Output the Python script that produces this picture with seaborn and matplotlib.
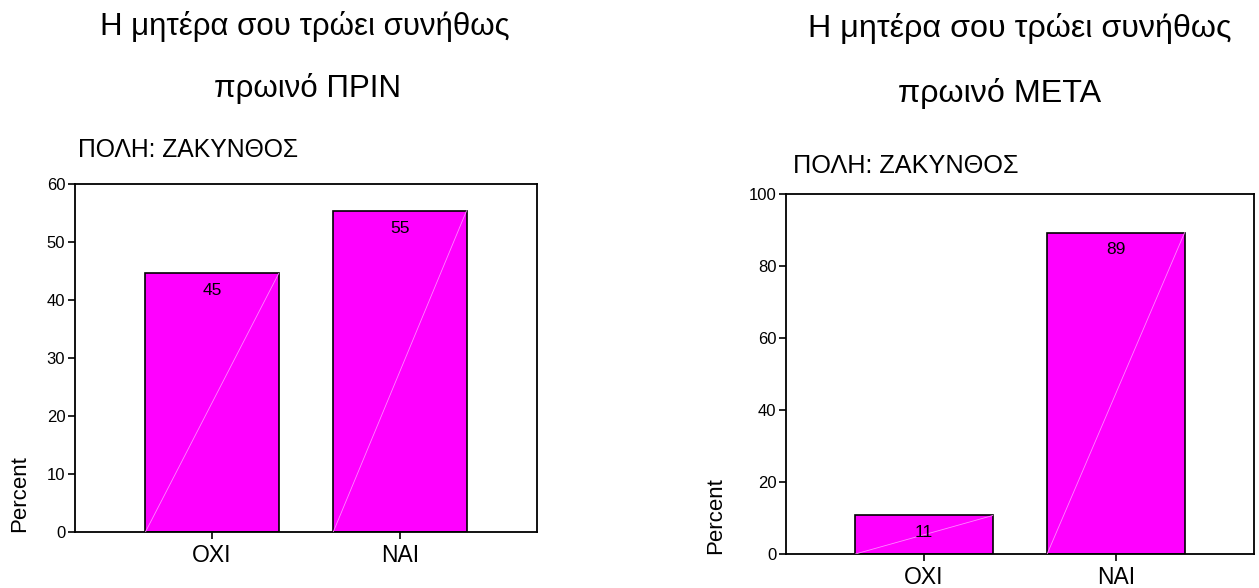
import matplotlib
matplotlib.use("Agg")
import matplotlib.pyplot as plt
import seaborn as sns
import numpy as np

categories = ["ΟΧΙ", "ΝΑΙ"]
values_before = [44.6, 55.4]
values_after = [10.7, 89.3]
title_line1 = "Η μητέρα σου τρώει συνήθως"
title_before = "πρωινό ΠΡΙΝ"
title_after = "πρωινό ΜΕΤΑ"
subtitle = "ΠΟΛΗ: ΖΑΚΥΝΘΟΣ"
yticks_before = [0, 10, 20, 30, 40, 50, 60]
yticks_after = [0, 20, 40, 60, 80, 100]

sns.set_theme(style="white")
plt.rcParams['font.family'] = ['Liberation Sans', 'DejaVu Sans']

W, H = 1259, 588
fig = plt.figure(figsize=(W / 100, H / 100), dpi=100)

def px_axes(x0, y0, x1, y1):
    return fig.add_axes([x0 / W, 1 - y1 / H, (x1 - x0) / W, (y1 - y0) / H])

ax1 = px_axes(75, 184, 537, 532)
ax2 = px_axes(786, 194, 1254, 554)

def draw(ax, vals, yticks, xlim, width, ylab_x):
    sns.barplot(x=categories, y=vals, ax=ax, color="#FF00FF", saturation=1,
                edgecolor="black", linewidth=1.2, width=width)
    ax.set_ylim(yticks[0], yticks[-1])
    ax.set_yticks(yticks)
    ax.set_xlim(*xlim)
    for s in ax.spines.values():
        s.set_visible(True)
        s.set_color("black")
        s.set_linewidth(1.3)
    ax.tick_params(axis="y", left=True, direction="out", length=5, width=1.2,
                   labelsize=12, pad=2, colors="black")
    ax.tick_params(axis="x", bottom=True, direction="out", length=5, width=1.2,
                   labelsize=16.5, pad=4, colors="black")
    ax.set_xlabel("")
    ax.set_ylabel("Percent", fontsize=16, color="black", loc="bottom")
    ax.yaxis.set_label_coords(ylab_x, 0)
    for p, v in zip(ax.patches, vals):
        x0, y0 = p.get_x(), p.get_y()
        w, h = p.get_width(), p.get_height()
        ax.plot([x0, x0 + w], [y0, y0 + h], color="#FF88FF", lw=0.6, zorder=3)
        ax.annotate(f"{round(v)}", (x0 + w / 2, y0 + h), xytext=(0, -12.5),
                    textcoords="offset points", ha="center", va="center",
                    fontsize=12.5, color="black", zorder=4)

draw(ax1, values_before, yticks_before, (-0.73, 1.73), 0.71, -0.097)
draw(ax2, values_after, yticks_after, (-0.72, 1.72), 0.717, -0.1275)

def ftxt(x, y, s, size, ha="center"):
    fig.text(x / W, 1 - y / H, s, fontsize=size, ha=ha, va="baseline", color="black")

ftxt(305, 35, title_line1, 22.5)
ftxt(307, 97, title_before, 22.5)
ftxt(78, 157, subtitle, 17.8, ha="left")
ftxt(1020, 37, title_line1, 23.2)
ftxt(1000, 102, title_after, 23.2)
ftxt(793, 173, subtitle, 18.2, ha="left")

fig.savefig("out.png", dpi=100, facecolor="white")
